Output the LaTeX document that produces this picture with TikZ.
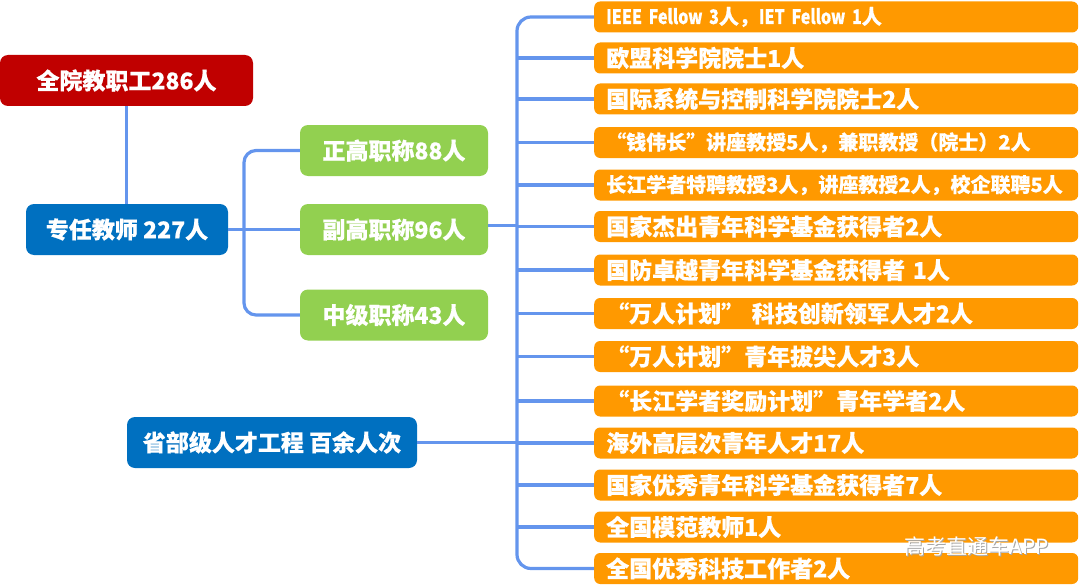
\documentclass[tikz,border=0pt]{standalone}
\usepackage{fontspec}
\setmainfont{Noto Sans CJK SC}[BoldFeatures={FakeBold=0.4}]
\newfontfamily\narrowlat{Noto Sans CJK SC}[BoldFeatures={FakeBold=0.4}, FakeStretch=0.8]
\definecolor{cred}{HTML}{C00000}
\definecolor{cblue}{HTML}{0070C0}
\definecolor{cgreen}{HTML}{92D050}
\definecolor{corange}{HTML}{FF9900}
\definecolor{cline}{HTML}{6495ED}
\tikzset{
  box/.style={rounded corners=8pt, inner sep=0pt, text=white, font=\bfseries\fontsize{23}{23}\selectfont},
  redbox/.style={box, fill=cred},
  bluebox/.style={box, fill=cblue},
  greenbox/.style={box, fill=cgreen, minimum width=188pt, minimum height=51pt},
  obox/.style={rounded corners=6pt, fill=corange, text=white, anchor=west, minimum height=31pt,
    text width=460pt, inner xsep=12pt, inner ysep=0pt, align=left,
    font=\bfseries\fontsize{23}{23}\selectfont},
  osmall/.style={font=\bfseries\fontsize{20}{20}\selectfont},
  conn/.style={draw=cline, line width=3.2pt},
}
\begin{document}
\begin{tikzpicture}[x=1pt, y=-1pt]
\useasboundingbox (0,0) rectangle (1080,586);
% left nodes
\node[redbox, minimum width=253pt, minimum height=51pt] (all) at (126.5,80.5) {全院教职工286人};
\node[bluebox, minimum width=202pt, minimum height=51pt] (teach) at (127,229.5) {专任教师 227人};
\node[bluebox, minimum width=290pt, minimum height=51pt] (prov) at (272,442.5) {省部级人才工程 百余人次};
\node[greenbox] (g1) at (394,150.5) {正高职称88人};
\node[greenbox] (g2) at (394,229.5) {副高职称96人};
\node[greenbox] (g3) at (394,315) {中级职称43人};
% orange nodes
\node[obox, osmall] (o1) at (594,17) {{\narrowlat\bfseries IEEE Fellow 3}人，{\narrowlat\bfseries IET Fellow 1}人};
\node[obox] (o2) at (594,58) {欧盟科学院院士1人};
\node[obox] (o3) at (594,99) {国际系统与控制科学院院士2人};
\node[obox, osmall] (o4) at (594,142.5) {“钱伟长”讲座教授5人，兼职教授（院士）2人};
\node[obox, osmall] (o5) at (594,185) {长江学者特聘教授3人，讲座教授2人，校企联聘5人};
\node[obox] (o6) at (594,226.5) {国家杰出青年科学基金获得者2人};
\node[obox] (o7) at (594,270) {国防卓越青年科学基金获得者 1人};
\node[obox] (o8) at (594,313.5) {“万人计划” 科技创新领军人才2人};
\node[obox] (o9) at (594,356.5) {“万人计划”青年拔尖人才3人};
\node[obox] (o10) at (594,401) {“长江学者奖励计划”青年学者2人};
\node[obox] (o11) at (594,443) {海外高层次青年人才17人};
\node[obox] (o12) at (594,485) {国家优秀青年科学基金获得者7人};
\node[obox] (o13) at (594,527) {全国模范教师1人};
\node[obox] (o14) at (594,568.5) {全国优秀科技工作者2人};
% trunk coordinates
\coordinate (tA) at (244,229.5);
\coordinate (tB) at (517,226);
% connectors
\draw[conn] (all.south) -- (all.south |- teach.north);
\draw[conn] (teach.east) -- (g2.west);
\draw[conn, rounded corners=12pt] (g1.west) -- (g1.west -| tA) -- (g3.west -| tA) -- (g3.west);
\draw[conn, rounded corners=14pt] (o1.west) -- (o1.west -| tB) -- (o14.west -| tB) -- (o14.west);
\draw[conn] ([yshift=4pt]g2.east) -- ([yshift=4pt]g2.east -| tB);
\draw[conn] (prov.east) -- (prov.east -| tB);
\foreach \i in {2,...,13} {
  \draw[conn] (o\i.west -| tB) -- (o\i.west);
}
% watermark
\node[text=gray!70, font=\fontsize{21}{21}\selectfont] (wm0) at (977.5,547) {高考直通车APP};
\node[text=white, font=\fontsize{21}{21}\selectfont] (wm) at (976.5,546) {高考直通车APP};
\end{tikzpicture}
\end{document}
